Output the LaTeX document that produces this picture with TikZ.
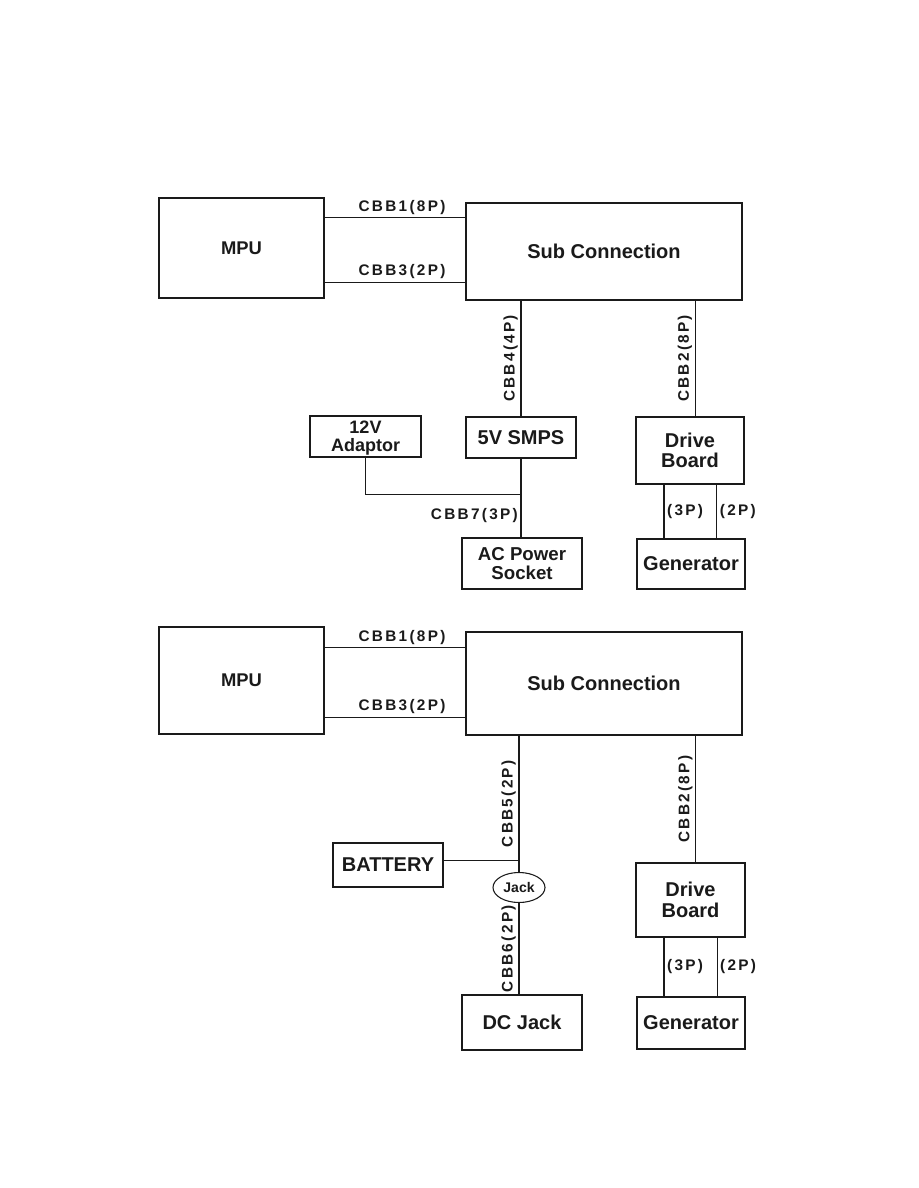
\documentclass[tikz,border=0pt]{standalone}
\usepackage{fontspec}
\setmainfont{Liberation Sans}
\newfontfamily\lblfont[LetterSpace=15]{Liberation Sans}
\usetikzlibrary{shapes.geometric,positioning}
\definecolor{ink}{HTML}{1A1A1A}
\tikzset{
  blk/.style 2 args={draw=ink, line width=0.9pt, minimum width=#1*0.75pt,
              minimum height=#2*0.75pt, inner sep=0pt, align=center, text=ink,
              font=\bfseries\fontsize{15}{15.5}\selectfont},
  tight/.style={font=\bfseries\fontsize{14}{14.2}\selectfont},
  wire/.style={draw=ink, line width=0.8pt},
  lbl/.style={text=ink, inner sep=2pt, font=\lblfont\bfseries\fontsize{11.5}{12}\selectfont},
  jackel/.style={ellipse, draw=ink, line width=0.8pt, minimum width=39pt,
              minimum height=22.5pt, inner sep=0pt, text=ink,
              font=\bfseries\fontsize{10.5}{12}\selectfont}
}
\begin{document}
\begin{tikzpicture}[x=0.75pt, y=-0.75pt]
  \useasboundingbox (0,0) rectangle (918,1188);
  % upper block: mains supply
  \node[blk={165}{100}, font=\bfseries\fontsize{13.8}{15}\selectfont] (mpuA) at (241.5,248) {MPU};
  \node[blk={276}{97}] (subA) at (604,251.5) {Sub Connection};
  \node[blk={111}{41}, font=\bfseries\fontsize{13.5}{13.5}\selectfont,
        text height=25pt, text depth=2pt] (adapt) at (365.5,436.5) {12V\\Adaptor};
  \node[blk={110}{41}] (smps) at (521,437.5) {5V SMPS};
  \node[blk={108}{67}] (driveA) at (690,450.5) {Drive\\Board};
  \node[blk={120}{51}, tight] (acs) at (522,563.5) {AC Power\\Socket};
  \node[blk={108}{50}] (genA) at (691,564) {Generator};
  \coordinate (a1) at ([yshift=-15.4pt]mpuA.north east);
  \coordinate (a3) at ([yshift=12.4pt]mpuA.south east);
  \draw[wire] (a1) -- (a1 -| subA.west) node[pos=0.55, above, lbl] {CBB1(8P)};
  \draw[wire] (a3) -- (a3 -| subA.west) node[pos=0.55, above, lbl] {CBB3(2P)};
  \draw[wire] (smps.north) -- (smps.north |- subA.south) node[midway, above, sloped, lbl] {CBB4(4P)};
  \coordinate (dA) at ([xshift=4pt]driveA.north);
  \draw[wire] (dA) -- (dA |- subA.south) node[midway, above, sloped, lbl] {CBB2(8P)};
  \draw[wire] (smps.south) -- coordinate[pos=0.45] (jA) (smps.south |- acs.north)
    node[pos=0.72, left, lbl] {CBB7(3P)};
  \draw[wire] (adapt.south) |- (jA);
  \coordinate (gA1) at ([xshift=-19.5pt]driveA.south);
  \coordinate (gA2) at ([xshift=20pt]driveA.south);
  \draw[wire] (gA1) -- (gA1 |- genA.north) node[midway, right, lbl] {(3P)};
  \draw[wire] (gA2) -- (gA2 |- genA.north) node[midway, right, lbl] {(2P)};
  % lower block: battery supply
  \node[blk={165}{107}, font=\bfseries\fontsize{13.8}{15}\selectfont] (mpuB) at (241.5,680.5) {MPU};
  \node[blk={276}{103}] (subB) at (604,683.5) {Sub Connection};
  \node[blk={110}{44}] (batt) at (388,865) {BATTERY};
  \node[jackel] (jack) at (519,887.5) {Jack};
  \node[blk={120}{55}] (dcj) at (522,1022.5) {DC Jack};
  \node[blk={109}{74}] (driveB) at (690.5,900) {Drive\\Board};
  \node[blk={108}{52}] (genB) at (691,1023) {Generator};
  \coordinate (b1) at ([yshift=-15.75pt]mpuB.north east);
  \coordinate (b3) at ([yshift=13pt]mpuB.south east);
  \draw[wire] (b1) -- (b1 -| subB.west) node[pos=0.55, above, lbl] {CBB1(8P)};
  \draw[wire] (b3) -- (b3 -| subB.west) node[pos=0.55, above, lbl] {CBB3(2P)};
  \draw[wire] (jack.north) -- coordinate[pos=0.087] (jB) (jack.north |- subB.south)
    node[midway, above, sloped, lbl] {CBB5(2P)};
  \draw[wire] (batt.east |- jB) -- (jB);
  \draw[wire] (jack.south |- dcj.north) -- (jack.south) node[midway, above, sloped, lbl] {CBB6(2P)};
  \coordinate (dB) at ([xshift=4pt]driveB.north);
  \draw[wire] (dB) -- (dB |- subB.south) node[midway, above, sloped, lbl] {CBB2(8P)};
  \coordinate (gB1) at ([xshift=-19.9pt]driveB.south);
  \coordinate (gB2) at ([xshift=19.9pt]driveB.south);
  \draw[wire] (gB1) -- (gB1 |- genB.north) node[midway, right, lbl] {(3P)};
  \draw[wire] (gB2) -- (gB2 |- genB.north) node[midway, right, lbl] {(2P)};
\end{tikzpicture}
\end{document}
